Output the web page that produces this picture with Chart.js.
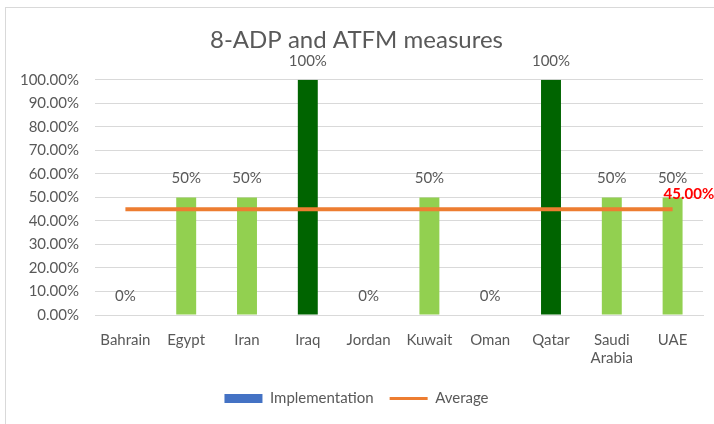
<!DOCTYPE html>
<html>
<head>
<meta charset="utf-8">
<script src="https://cdn.jsdelivr.net/npm/chart.js@4"></script>
<style>
  html, body { margin: 0; padding: 0; background: #fff; }
  #wrap { position: relative; width: 714px; height: 424px; overflow: hidden; }
  #frame { position: absolute; left: 5px; top: 7px; width: 760px; height: 460px; border: 1px solid #d9d9d9; }
  canvas { position: absolute; left: 0; top: 0; }
</style>
</head>
<body>
<div id="wrap">
  <div id="frame"></div>
  <canvas id="chart" width="714" height="424"></canvas>
</div>
<script>
// ----------------------- Data ----------------------------------
const countries = ['Bahrain', 'Egypt', 'Iran', 'Iraq', 'Jordan', 'Kuwait', 'Oman', 'Qatar', ['Saudi', 'Arabia'], 'UAE'];
const implementation = [0, 50, 50, 100, 0, 50, 0, 100, 50, 50];
const average = [45, 45, 45, 45, 45, 45, 45, 45, 45, 45];
const averageLabel = '45.00%';

const FONT = 'Lato, "Noto Sans", sans-serif';
const GREY = '#595959';

// light green for partial, dark green for full implementation
const barColors = implementation.map(v => v === 100 ? '#006400' : '#92D050');

// ----------------------- Labels plugin ----------------------------------
const labelPlugin = {
  id: 'valueLabels',
  afterDatasetsDraw(chart) {
    const ctx = chart.ctx;
    ctx.save();
    ctx.textAlign = 'center';
    ctx.textBaseline = 'middle';
    ctx.fillStyle = GREY;
    ctx.font = '15px ' + FONT;
    chart.getDatasetMeta(0).data.forEach((bar, i) => {
      ctx.fillText(implementation[i] + '%', bar.x, bar.y - 19);
    });
    // red label on the last point of the average line
    const pts = chart.getDatasetMeta(1).data;
    const last = pts[pts.length - 1];
    ctx.textAlign = 'left';
    ctx.fillStyle = '#FF0000';
    ctx.font = 'bold 15px ' + FONT;
    ctx.fillText(averageLabel, last.x - 9, last.y - 15);
    ctx.restore();
  }
};

// ----------------------- Chart ----------------------------------
new Chart(document.getElementById('chart'), {
  type: 'bar',
  data: {
    labels: countries,
    datasets: [{
      label: 'Implementation',
      data: implementation,
      backgroundColor: barColors,
      categoryPercentage: 0.8,
      barPercentage: 0.41,
      order: 2
    }, {
      type: 'line',
      label: 'Average',
      data: average,
      borderColor: '#ED7D31',
      backgroundColor: '#ED7D31',
      borderWidth: 4,
      pointRadius: 0,
      order: 1
    }]
  },
  options: {
    responsive: false,
    animation: false,
    layout: { padding: { left: 10, right: 11, top: 20, bottom: 8 } },
    plugins: {
      title: {
        display: true,
        text: '8-ADP and ATFM measures',
        color: GREY,
        font: { family: FONT, size: 24, weight: 'normal' },
        padding: { top: 6, bottom: 25 }
      },
      legend: {
        position: 'bottom',
        labels: {
          color: GREY,
          font: { family: FONT, size: 15 },
          usePointStyle: true,
          pointStyleWidth: 38,
          boxHeight: 9,
          padding: 16,
          generateLabels() {
            return [
              { text: 'Implementation', fillStyle: '#4472C4', strokeStyle: '#4472C4', lineWidth: 0, pointStyle: 'rect', fontColor: GREY, datasetIndex: 0 },
              { text: 'Average', fillStyle: '#ED7D31', strokeStyle: '#ED7D31', lineWidth: 3, pointStyle: 'line', fontColor: GREY, datasetIndex: 1 }
            ];
          }
        }
      },
      tooltip: { enabled: false }
    },
    scales: {
      x: {
        grid: { display: false },
        border: { color: '#D9D9D9' },
        ticks: { color: GREY, font: { family: FONT, size: 15 }, maxRotation: 0, autoSkip: false, padding: 8 }
      },
      y: {
        min: 0,
        max: 100,
        afterFit(scale) { scale.width = 85; },
        border: { display: false },
        grid: { color: '#D9D9D9', drawTicks: false },
        ticks: {
          stepSize: 10,
          color: GREY,
          font: { family: FONT, size: 15 },
          padding: 16,
          callback: v => v.toFixed(2) + '%'
        }
      }
    }
  },
  plugins: [labelPlugin]
});
</script>
</body>
</html>
